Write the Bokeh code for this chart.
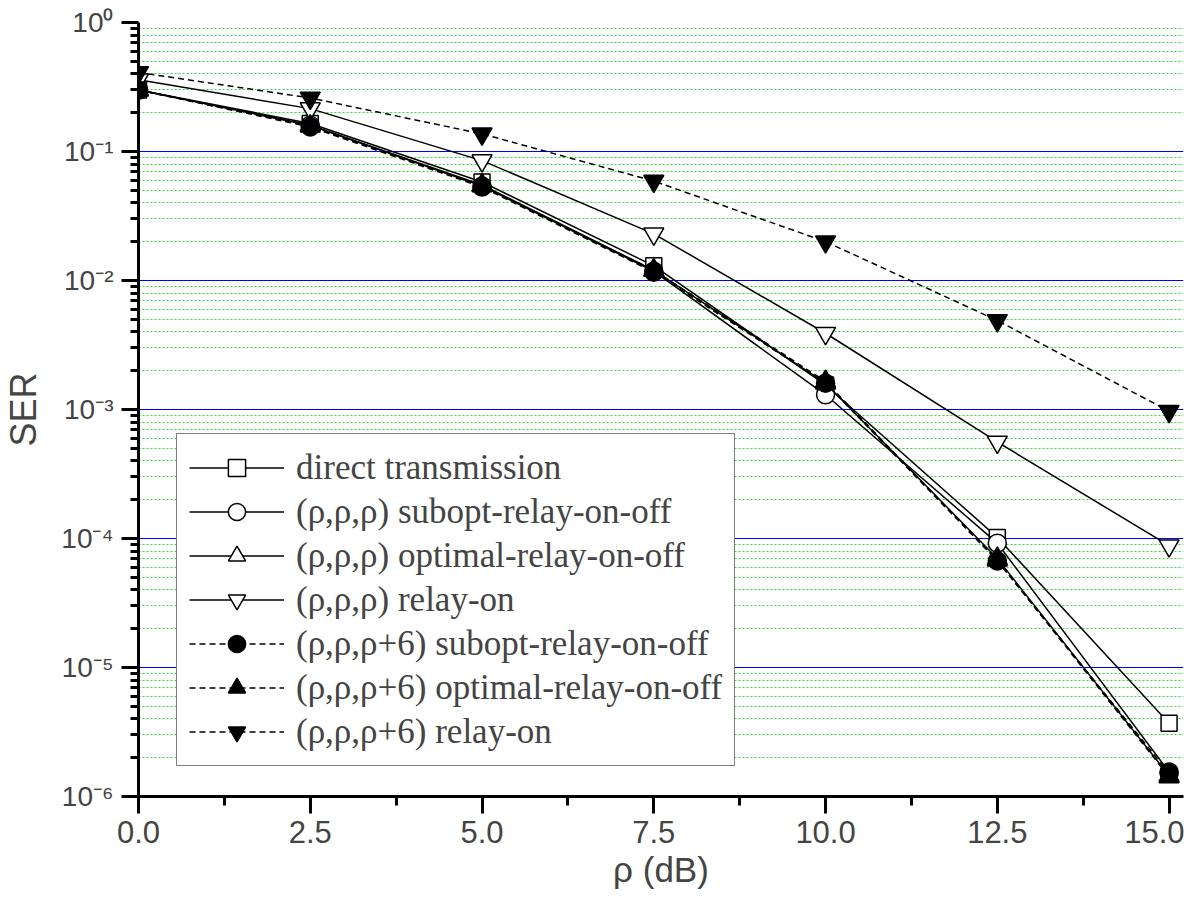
from bokeh.plotting import figure
from bokeh.models import (Range1d, SingleIntervalTicker, PrintfTickFormatter,
                          CustomJSTickFormatter, FixedTicker)
from bokeh.embed import file_html
from bokeh.resources import INLINE

# ---------------- data ----------------
rho_db = [0.0, 2.5, 5.0, 7.5, 10.0, 12.5, 15.0]
ser_direct = [0.30, 0.165, 0.058, 0.0130, 0.00155, 1.02e-4, 3.7e-6]
ser_sub = [0.30, 0.160, 0.054, 0.0118, 0.00130, 9.2e-5, 1.55e-6]
ser_opt = [0.30, 0.160, 0.055, 0.0120, 0.00160, 7.0e-5, 1.45e-6]
ser_relay = [0.36, 0.215, 0.085, 0.023, 0.0039, 5.6e-4, 8.8e-5]
ser_sub6 = [0.30, 0.155, 0.053, 0.0116, 0.00160, 6.7e-5, 1.52e-6]
ser_opt6 = [0.30, 0.157, 0.054, 0.0120, 0.00165, 6.8e-5, 1.42e-6]
ser_relay6 = [0.41, 0.26, 0.137, 0.059, 0.020, 0.0049, 9.7e-4]

series_labels = [
    "direct transmission",
    "(ρ,ρ,ρ) subopt-relay-on-off",
    "(ρ,ρ,ρ) optimal-relay-on-off",
    "(ρ,ρ,ρ) relay-on",
    "(ρ,ρ,ρ+6) subopt-relay-on-off",
    "(ρ,ρ,ρ+6) optimal-relay-on-off",
    "(ρ,ρ,ρ+6) relay-on",
]
y_exponents = [0, -1, -2, -3, -4, -5, -6]
minor_mults = [2, 3, 4, 5, 6, 7, 8, 9]
x_label = "ρ (dB)"
y_label = "SER"

# ---------------- figure ----------------
p = figure(width=1184, height=901,
           x_range=Range1d(0, 15.21), y_range=Range1d(1e-6, 1),
           y_axis_type="log", output_backend="svg", toolbar_location=None,
           min_border_left=136, min_border_right=1, min_border_top=22,
           min_border_bottom=105)
p.outline_line_color = None
p.background_fill_color = "white"

# x axis
xa = p.xaxis[0]
xa.ticker = SingleIntervalTicker(interval=2.5, num_minor_ticks=2)
xa.formatter = PrintfTickFormatter(format="%.1f")
xa.axis_line_width = 3
xa.major_tick_line_width = 3
xa.minor_tick_line_width = 3
xa.major_tick_out = 17
xa.major_tick_in = 0
xa.minor_tick_out = 9
xa.minor_tick_in = 0
xa.major_label_text_font = "Liberation Sans"
xa.major_label_text_font_size = "31px"
xa.major_label_standoff = 7
xa.axis_label = x_label
xa.axis_label_text_font = "Liberation Sans"
xa.axis_label_text_font_style = "normal"
xa.axis_label_text_font_size = "35px"
xa.axis_label_standoff = 4

# y axis
ya = p.yaxis[0]
ya.ticker = FixedTicker(
    ticks=[10.0 ** k for k in y_exponents],
    minor_ticks=[m * 10.0 ** k for k in y_exponents[1:] for m in minor_mults])
ya.formatter = CustomJSTickFormatter(code="""
const sup = {"-": "\u207b", "0": "\u2070", "1": "\u00b9", "2": "\u00b2", "3": "\u00b3",
             "4": "\u2074", "5": "\u2075", "6": "\u2076", "7": "\u2077", "8": "\u2078", "9": "\u2079"};
const e = Math.round(Math.log10(tick));
return "10" + String(e).split("").map(c => sup[c]).join("");
""")
ya.axis_line_width = 3
ya.major_tick_line_width = 3
ya.minor_tick_line_width = 3
ya.major_tick_out = 17
ya.major_tick_in = 0
ya.minor_tick_out = 8
ya.minor_tick_in = 0
ya.major_label_text_font = "Liberation Sans"
ya.major_label_text_font_size = "28px"
ya.major_label_standoff = 8
ya.axis_label = y_label
ya.axis_label_text_font = "Liberation Sans"
ya.axis_label_text_font_style = "normal"
ya.axis_label_text_font_size = "36px"
ya.axis_label_standoff = 14

p.xgrid.visible = False
p.ygrid.grid_line_color = "#0000ff"
p.ygrid.grid_line_alpha = 1.0
p.ygrid.grid_line_width = 1.2
p.ygrid.minor_grid_line_color = "#33dd33"
p.ygrid.minor_grid_line_dash = "2 2"
p.ygrid.minor_grid_line_width = 1

# ---------------- series ----------------
styles = [
    (ser_direct, "square", 16, "white", "solid"),
    (ser_sub, "circle", 18, "white", "solid"),
    (ser_opt, "triangle", 20, "white", "solid"),
    (ser_relay, "inverted_triangle", 20, "white", "solid"),
    (ser_sub6, "circle", 18, "black", "6 4"),
    (ser_opt6, "triangle", 20, "black", "6 4"),
    (ser_relay6, "inverted_triangle", 20, "black", "6 4"),
]
for (ys, marker, size, fill, dash), lab in zip(styles, series_labels):
    p.line(rho_db, ys, line_color="black", line_width=1.5, line_dash=dash,
           legend_label=lab)
    p.scatter(rho_db, ys, marker=marker, size=size, fill_color=fill,
              line_color="black", line_width=1.5, legend_label=lab)

lg = p.legend[0]
lg.location = (38, 30)
lg.border_line_color = "black"
lg.border_line_width = 1.5
lg.background_fill_color = "white"
lg.background_fill_alpha = 1
lg.label_text_font = "Liberation Serif"
lg.label_text_font_size = "35px"
lg.glyph_width = 95
lg.glyph_height = 43
lg.label_height = 43
lg.spacing = 1
lg.padding = 12
lg.margin = 0
lg.label_standoff = 12

open("out.html", "w").write(file_html(p, INLINE))
